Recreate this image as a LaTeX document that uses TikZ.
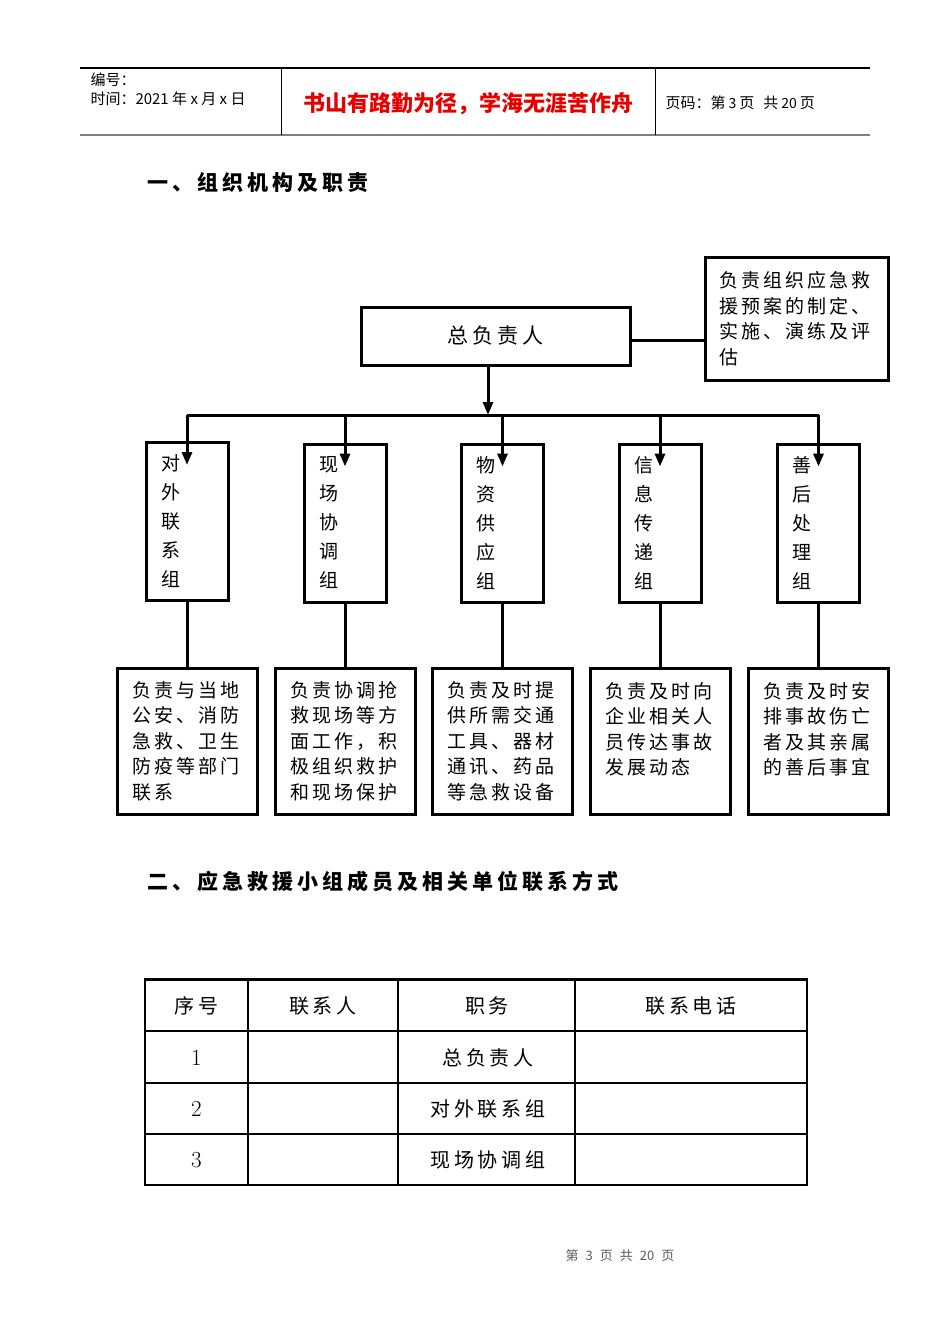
\documentclass[tikz,border=0pt]{standalone}
\usepackage{fontspec}
\newfontfamily\cjk{Noto Sans CJK SC}
\newfontfamily\cjkwide[LetterSpace=16]{Noto Sans CJK SC}
\newfontfamily\cjkhead[LetterSpace=19]{Noto Sans CJK SC}
\usepackage{tikz}
\usetikzlibrary{arrows.meta}
\definecolor{rulegray}{RGB}{128,128,128}
\definecolor{mottored}{RGB}{230,0,0}
\definecolor{footgray}{RGB}{90,90,90}
\tikzstyle{chief} = [draw,inner sep=0pt,minimum width=269pt,minimum height=58pt,font=\cjkhead\fontsize{21}{25}\selectfont]
\tikzstyle{plan} = [draw,inner xsep=14pt,inner ysep=0pt,minimum width=183pt,minimum height=123pt,text width=155pt,align=left,font=\cjkwide\fontsize{19}{25.5}\selectfont]
\tikzstyle{team} = [draw,inner xsep=15pt,inner ysep=0pt,minimum width=82pt,minimum height=158pt,text width=52pt,align=left,font=\cjk\fontsize{19}{29}\selectfont]
\tikzstyle{duty} = [draw,inner xsep=15pt,inner ysep=0pt,minimum width=140pt,minimum height=146pt,text width=110pt,align=left,font=\cjkwide\fontsize{19}{25.5}\selectfont]
\tikzstyle{cell} = [inner sep=0pt,font=\cjkhead\fontsize{20}{24}\selectfont]
\tikzstyle{cellnum} = [inner sep=0pt,font=\fontsize{23}{26}\selectfont]
\tikzstyle{headline} = [anchor=west,inner sep=0pt,font=\cjkhead\bfseries\fontsize{21}{25}\selectfont]
\tikzstyle{small} = [anchor=west,inner sep=0pt,font=\cjk\fontsize{15}{18}\selectfont]

\begin{document}
\begin{tikzpicture}[x=1pt,y=-1pt,>={Triangle[length=13pt,width=10pt]},line width=3pt]
    \useasboundingbox (0,0) rectangle (950,1344);

    % page header
    \draw[line width=1.2pt] (80,68) -- (870,68);
    \draw[line width=2.5pt,rulegray] (80,135) -- (870,135);
    \draw[line width=1pt] (281,68) -- (281,135) (655,68) -- (655,135);
    \node[small] (docno) at (89,80) {编号：};
    \node[small] (docdate) at (89,99) {时间：2021 年 x 月 x 日};
    \node[inner sep=0pt,text=mottored,font=\cjk\bfseries\fontsize{22}{26}\selectfont] (motto) at (468,104) {书山有路勤为径，学海无涯苦作舟};
    \node[small] (pageno) at (664,103) {页码：第\hspace{3pt}{\fontsize{14}{16}\selectfont 3}\hspace{3pt}页\hspace{9pt}共\hspace{3pt}{\fontsize{14}{16}\selectfont 20}\hspace{3pt}页};

    \node[headline] (sec1) at (146,183) {一、组织机构及职责};

    % chart
    \node[chief] (chief) at (495.5,336) {总负责人};
    \node[plan] (plan) at (796.5,318.5) {负责组织应急救\\援预案的制定、\\实施、演练及评\\估};
    \coordinate (bus) at (488,415);

    \node[team] (g1) at (187,521.5) {对\\外\\联\\系\\组};
    \node[team] (g2) at (345,523) {现\\场\\协\\调\\组};
    \node[team] (g3) at (502.5,523) {物\\资\\供\\应\\组};
    \node[team] (g4) at (660,523) {信\\息\\传\\递\\组};
    \node[team] (g5) at (818.5,523) {善\\后\\处\\理\\组};

    \node[duty] (d1) at (187,741) {负责与当地\\公安、消防\\急救、卫生\\防疫等部门\\联系};
    \node[duty] (d2) at (345,741) {负责协调抢\\救现场等方\\面工作，积\\极组织救护\\和现场保护};
    \node[duty] (d3) at (502.5,741) {负责及时提\\供所需交通\\工具、器材\\通讯、药品\\等急救设备};
    \node[duty] (d4) at (660,741) {负责及时向\\企业相关人\\员传达事故\\发展动态\\\mbox{}};
    \node[duty] (d5) at (818.5,741) {负责及时安\\排事故伤亡\\者及其亲属\\的善后事宜\\\mbox{}};

    \draw ([yshift=-4pt]chief.east) -- ([yshift=-4pt]chief.east -| plan.west);
    \draw[->] (chief.south -| bus) -- (bus);
    \draw (g1 |- bus) -- (g5 |- bus);
    \path[->]
      \foreach \i in {1,...,5} {
        (g\i |- bus) edge ([yshift=-24pt]g\i.north)
      } ;
    \path
      \foreach \i in {1,...,5} {
        (g\i) edge (d\i)
      } ;

    \node[headline] (sec2) at (146,881) {二、应急救援小组成员及相关单位联系方式};

    % contact table
    \draw[line width=1.5pt] (145,979) rectangle (807,1185);
    \draw[line width=3pt] (144,979) -- (808,979);
    \draw[line width=2pt] (145,1031) -- (807,1031);
    \foreach \y in {1083,1134}
      \draw[line width=1.5pt] (145,\y) -- (807,\y);
    \foreach \x in {248,398,575}
      \draw[line width=1.5pt] (\x,979) -- (\x,1185);

    \node[cell] (h1) at (196.5,1006) {序号};
    \node[cell] (h2) at (323,1006) {联系人};
    \node[cell] (h3) at (487,1006) {职务};
    \node[cell] (h4) at (691,1006) {联系电话};
    \node[cellnum] (n1) at (196.5,1058) {1};
    \node[cellnum] (n2) at (196.5,1109) {2};
    \node[cellnum] (n3) at (196.5,1160) {3};
    \node[cell] (r1) at (488,1058) {总负责人};
    \node[cell] (r2) at (488,1109) {对外联系组};
    \node[cell] (r3) at (488,1160) {现场协调组};

    % page footer
    \node[inner sep=0pt,text=footgray,font=\cjk\fontsize{13}{15}\selectfont] (foot) at (620,1256) {第\hspace{7pt}3\hspace{7pt}页\hspace{7pt}共\hspace{7pt}20\hspace{7pt}页};
\end{tikzpicture}
\end{document}
